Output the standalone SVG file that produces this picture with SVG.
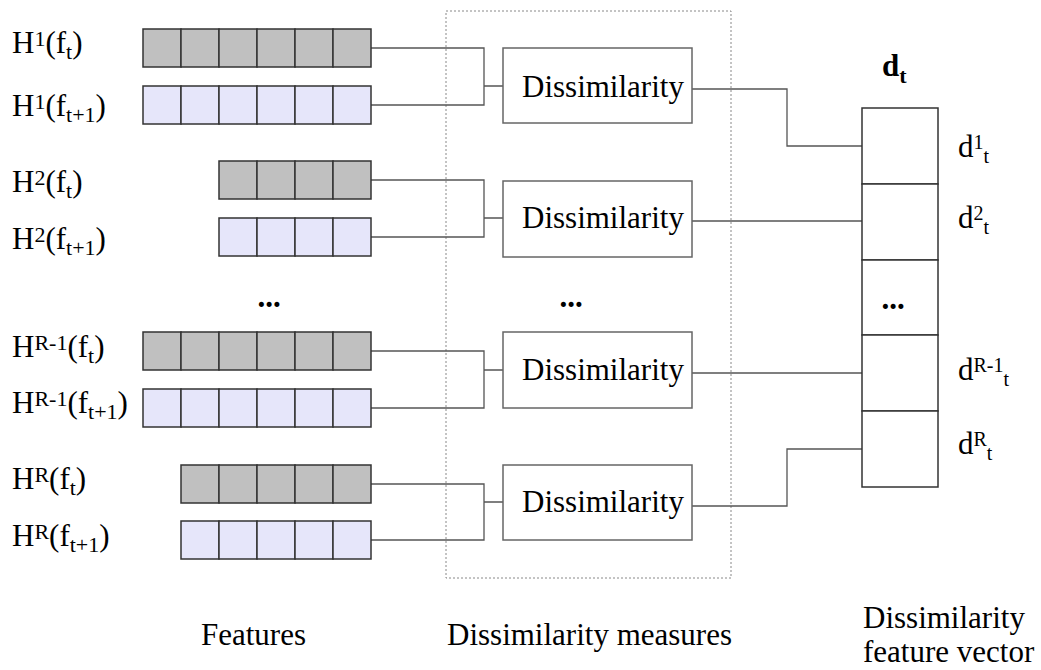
<svg xmlns="http://www.w3.org/2000/svg" width="1041" height="670" viewBox="0 0 1041 670" font-family="'Liberation Serif', 'Times New Roman', serif">
<style>
text{font-family:'Liberation Serif','Times New Roman',serif;fill:#000}
.lbl{font-size:31px}
.s{font-size:22px}
.r{font-size:20px}
.g{fill:#c0c0c0;stroke:#333;stroke-width:1.5}
.b{fill:#e6e6fa;stroke:#333;stroke-width:1.5}
.box{fill:#fff;stroke:#666;stroke-width:1.5}
.vec{fill:#fff;stroke:#333;stroke-width:1.5}
.con{fill:none;stroke:#555;stroke-width:1.3}
.dots{font-size:31px;font-weight:bold}
</style>
<rect width="1041" height="670" fill="#fff"/>
<rect id="group-frame" x="446" y="11" width="285" height="567" fill="none" stroke="#888" stroke-width="1" stroke-dasharray="2 2"/>

<g id="connectors" class="con">
<path d="M371 48H484V105H371M484 86H503"/>
<path d="M371 180H484V237H371M484 218H503"/>
<path d="M371 351H484V408H371M484 370H503"/>
<path d="M371 484H484V540H371M484 502H503"/>
<path d="M692 89H787V146H862"/>
<path d="M692 221H862"/>
<path d="M692 373H862"/>
<path d="M692 506H787V449H862"/>
</g>

<g id="H1-ft">
<text class="lbl" x="12" y="53">H<tspan class="s" dy="-7">1</tspan><tspan dy="7">(f</tspan><tspan class="s" dy="6">t</tspan><tspan dy="-6">)</tspan></text>
<rect class="g" x="143" y="29" width="38" height="38"/><rect class="g" x="181" y="29" width="38" height="38"/><rect class="g" x="219" y="29" width="38" height="38"/><rect class="g" x="257" y="29" width="38" height="38"/><rect class="g" x="295" y="29" width="38" height="38"/><rect class="g" x="333" y="29" width="38" height="38"/>
</g>
<g id="H1-ft1">
<text class="lbl" x="12" y="116">H<tspan class="s" dy="-7">1</tspan><tspan dy="7">(f</tspan><tspan class="s" dy="6">t+1</tspan><tspan dy="-6">)</tspan></text>
<rect class="b" x="143" y="86" width="38" height="38"/><rect class="b" x="181" y="86" width="38" height="38"/><rect class="b" x="219" y="86" width="38" height="38"/><rect class="b" x="257" y="86" width="38" height="38"/><rect class="b" x="295" y="86" width="38" height="38"/><rect class="b" x="333" y="86" width="38" height="38"/>
</g>
<g id="H2-ft">
<text class="lbl" x="12" y="192">H<tspan class="s" dy="-7">2</tspan><tspan dy="7">(f</tspan><tspan class="s" dy="6">t</tspan><tspan dy="-6">)</tspan></text>
<rect class="g" x="219" y="161" width="38" height="38"/><rect class="g" x="257" y="161" width="38" height="38"/><rect class="g" x="295" y="161" width="38" height="38"/><rect class="g" x="333" y="161" width="38" height="38"/>
</g>
<g id="H2-ft1">
<text class="lbl" x="12" y="249">H<tspan class="s" dy="-7">2</tspan><tspan dy="7">(f</tspan><tspan class="s" dy="6">t+1</tspan><tspan dy="-6">)</tspan></text>
<rect class="b" x="219" y="218" width="38" height="38"/><rect class="b" x="257" y="218" width="38" height="38"/><rect class="b" x="295" y="218" width="38" height="38"/><rect class="b" x="333" y="218" width="38" height="38"/>
</g>
<g id="dots-features"><text class="dots" x="269" y="307" text-anchor="middle">...</text></g>
<g id="HR1-ft">
<text class="lbl" x="12" y="357">H<tspan class="s" dy="-7">R-1</tspan><tspan dy="7">(f</tspan><tspan class="s" dy="6">t</tspan><tspan dy="-6">)</tspan></text>
<rect class="g" x="143" y="332" width="38" height="38"/><rect class="g" x="181" y="332" width="38" height="38"/><rect class="g" x="219" y="332" width="38" height="38"/><rect class="g" x="257" y="332" width="38" height="38"/><rect class="g" x="295" y="332" width="38" height="38"/><rect class="g" x="333" y="332" width="38" height="38"/>
</g>
<g id="HR1-ft1">
<text class="lbl" x="12" y="413">H<tspan class="s" dy="-7">R-1</tspan><tspan dy="7">(f</tspan><tspan class="s" dy="6">t+1</tspan><tspan dy="-6">)</tspan></text>
<rect class="b" x="143" y="389" width="38" height="38"/><rect class="b" x="181" y="389" width="38" height="38"/><rect class="b" x="219" y="389" width="38" height="38"/><rect class="b" x="257" y="389" width="38" height="38"/><rect class="b" x="295" y="389" width="38" height="38"/><rect class="b" x="333" y="389" width="38" height="38"/>
</g>
<g id="HR-ft">
<text class="lbl" x="12" y="489">H<tspan class="s" dy="-7">R</tspan><tspan dy="7">(f</tspan><tspan class="s" dy="6">t</tspan><tspan dy="-6">)</tspan></text>
<rect class="g" x="181" y="465" width="38" height="38"/><rect class="g" x="219" y="465" width="38" height="38"/><rect class="g" x="257" y="465" width="38" height="38"/><rect class="g" x="295" y="465" width="38" height="38"/><rect class="g" x="333" y="465" width="38" height="38"/>
</g>
<g id="HR-ft1">
<text class="lbl" x="12" y="546">H<tspan class="s" dy="-7">R</tspan><tspan dy="7">(f</tspan><tspan class="s" dy="6">t+1</tspan><tspan dy="-6">)</tspan></text>
<rect class="b" x="181" y="521" width="38" height="38"/><rect class="b" x="219" y="521" width="38" height="38"/><rect class="b" x="257" y="521" width="38" height="38"/><rect class="b" x="295" y="521" width="38" height="38"/><rect class="b" x="333" y="521" width="38" height="38"/>
</g>

<g id="dis1"><rect class="box" x="503" y="48" width="189" height="75"/><text class="lbl" x="522" y="97">Dissimilarity</text></g>
<g id="dis2"><rect class="box" x="503" y="181" width="189" height="76"/><text class="lbl" x="522" y="228">Dissimilarity</text></g>
<g id="dots-measures"><text class="dots" x="571" y="307" text-anchor="middle">...</text></g>
<g id="dis3"><rect class="box" x="503" y="332" width="189" height="76"/><text class="lbl" x="522" y="380">Dissimilarity</text></g>
<g id="dis4"><rect class="box" x="503" y="465" width="189" height="75"/><text class="lbl" x="522" y="512">Dissimilarity</text></g>

<g id="vector">
<text x="882" y="76" style="font-size:31px;font-weight:bold">d<tspan dy="7" style="font-size:22px">t</tspan></text>
<rect class="vec" x="862" y="108" width="76" height="76"/>
<rect class="vec" x="862" y="184" width="76" height="76"/>
<rect class="vec" x="862" y="260" width="76" height="75"/>
<rect class="vec" x="862" y="335" width="76" height="76"/>
<rect class="vec" x="862" y="411" width="76" height="76"/>
<text class="dots" x="893" y="309" text-anchor="middle">...</text>
<text class="lbl" x="958" y="157">d<tspan class="r" dy="-8">1</tspan><tspan class="r" dy="14">t</tspan></text>
<text class="lbl" x="958" y="228">d<tspan class="r" dy="-8">2</tspan><tspan class="r" dy="14">t</tspan></text>
<text class="lbl" x="958" y="380">d<tspan class="r" dy="-8">R-1</tspan><tspan class="r" dy="14">t</tspan></text>
<text class="lbl" x="958" y="454">d<tspan class="r" dy="-8">R</tspan><tspan class="r" dy="14">t</tspan></text>
</g>

<g id="captions">
<text class="lbl" x="201" y="645">Features</text>
<text class="lbl" x="447" y="645">Dissimilarity measures</text>
<text class="lbl" x="863" y="628">Dissimilarity</text>
<text class="lbl" x="863" y="662">feature vector</text>
</g>
</svg>
